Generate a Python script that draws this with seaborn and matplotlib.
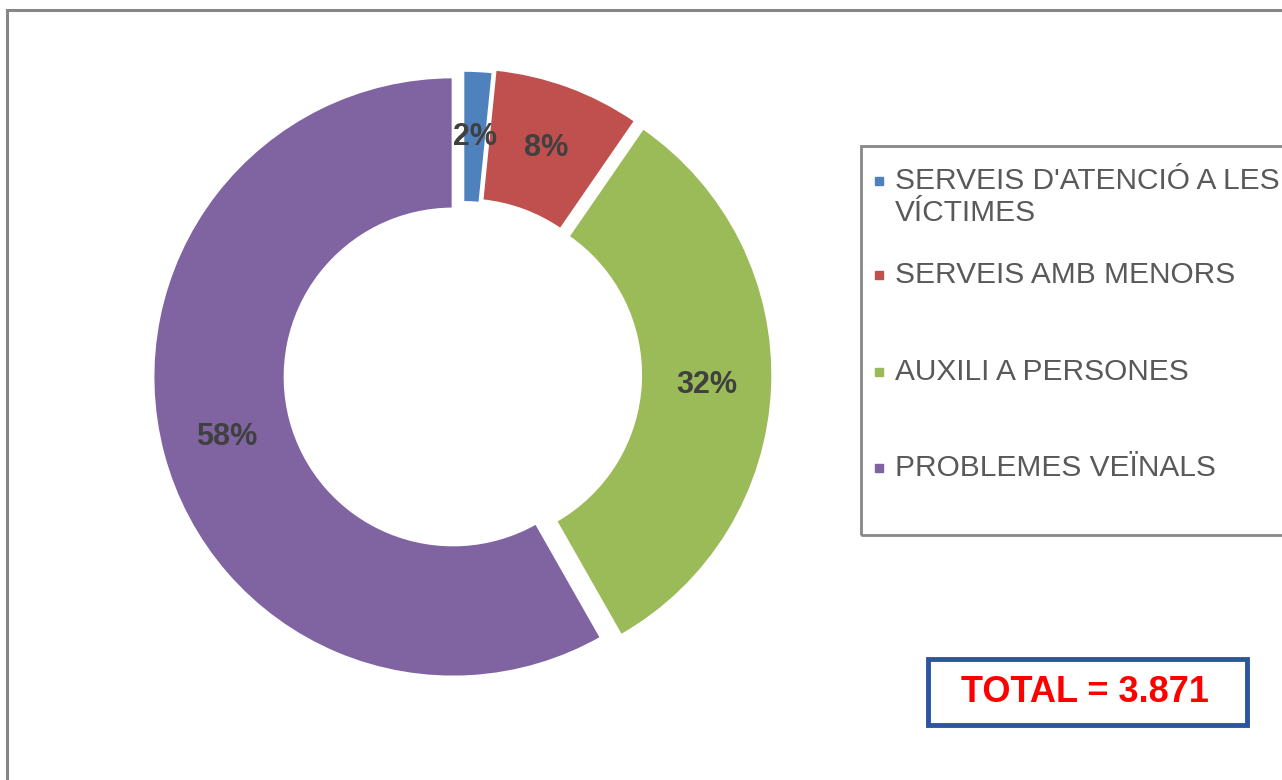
#!/usr/bin/env python3

import matplotlib.pyplot as plt
import matplotlib.patches as mpatches
import seaborn as sns
from typing import List


# serveis per tipus
categories: List[str] = ["SERVEIS D'ATENCIÓ A LES\nVÍCTIMES", "SERVEIS AMB MENORS",
                         "AUXILI A PERSONES", "PROBLEMES VEÏNALS"]
counts: List[int] = [62, 310, 1245, 2254]
total_label: str = "TOTAL = 3.871"
colors: List[str] = ["#4F81BD", "#C0504D", "#9BBB59", "#8064A2"]

sns.set_theme(style="white")
plt.rcParams["font.family"] = ["Liberation Sans", "DejaVu Sans"]

fig = plt.figure(figsize=(12.82, 7.80), dpi=100)
ax = fig.add_axes([0, 0, 1, 1])

# pie in pixel units (y up)
wedges, _, autotexts = ax.pie(counts, colors=colors, radius=300, center=(462.7, 405.6),
                              startangle=90, counterclock=False, explode=[4, 7, 10, 10],
                              autopct="%.0f%%", pctdistance=0.78,
                              wedgeprops=dict(width=132, edgecolor="white", linewidth=2),
                              textprops=dict(fontsize=22, fontweight="bold", color="#404040"))
ax.set_xlim(0, 1282)
ax.set_ylim(0, 780)
ax.set_aspect("equal")
ax.axis("off")

# outer chart border
fig.patches.append(mpatches.Rectangle((7 / 1282, -0.1), 1.2, (780 - 10) / 780 + 0.1,
                                      transform=fig.transFigure, fill=False,
                                      edgecolor="#868686", linewidth=2.2))

# legend box
fig.patches.append(mpatches.Rectangle((861 / 1282, (780 - 535) / 780), 0.5, 389 / 780,
                                      transform=fig.transFigure, fill=False,
                                      edgecolor="#888888", linewidth=2))
legend_y = [181, 275, 372, 468]
for name, col, ly in zip(categories, colors, legend_y):
    fig.patches.append(mpatches.Rectangle((875 / 1282, (780 - ly - 4) / 780), 8 / 1282, 8 / 780,
                                          transform=fig.transFigure, color=col))
    for i, line in enumerate(name.split("\n")):
        fig.text(895 / 1282, (780 - ly - 32 * i) / 780, line, fontsize=21.5,
                 color="#595959", va="center", ha="left")

# total box
fig.patches.append(mpatches.Rectangle((928 / 1282, (780 - 725) / 780), 319 / 1282, 66 / 780,
                                      transform=fig.transFigure, fill=False,
                                      edgecolor="#2B55A0", linewidth=3.5))
fig.text(1085 / 1282, (780 - 692) / 780, total_label, fontsize=26, fontweight="bold",
         color="#FF0000", ha="center", va="center")

fig.savefig("out.png", dpi=100)
